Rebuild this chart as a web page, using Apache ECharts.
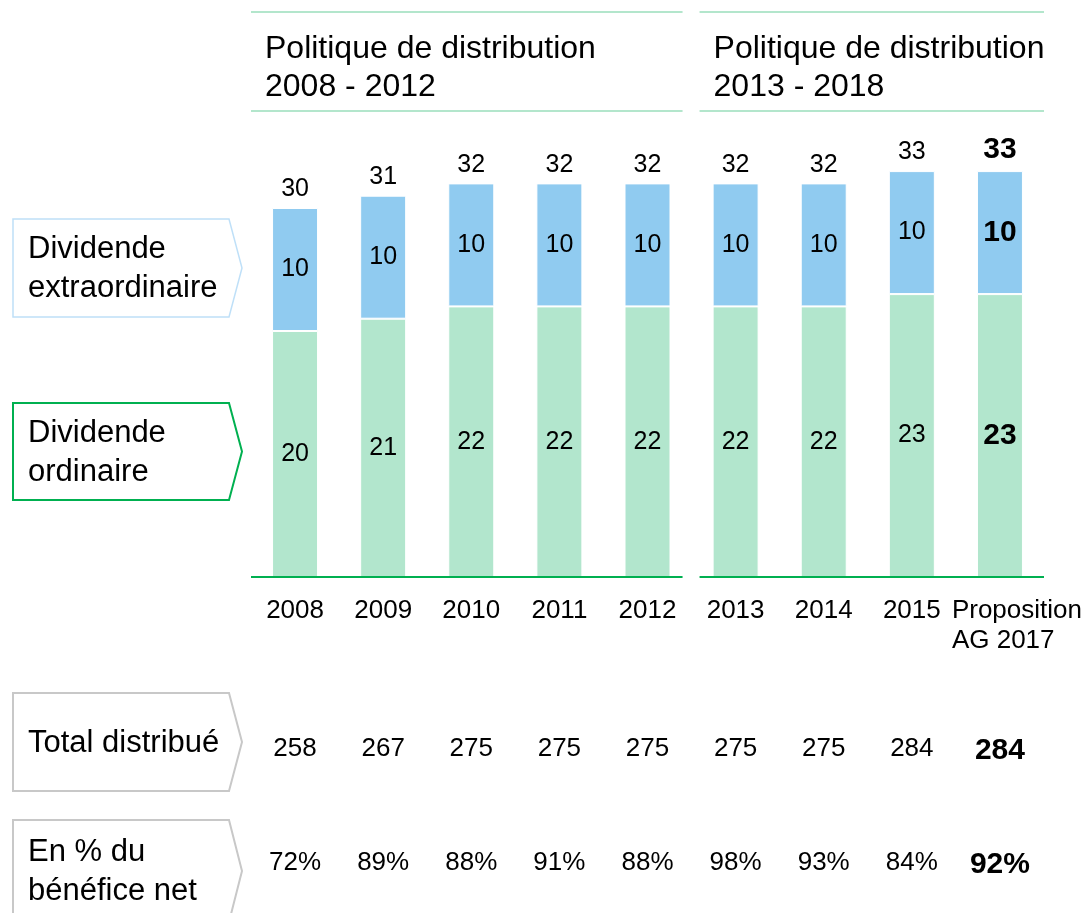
<!DOCTYPE html>
<html>
<head>
<meta charset="utf-8">
<script src="https://cdn.jsdelivr.net/npm/echarts@6/dist/echarts.min.js"></script>
<style>html,body{margin:0;padding:0;background:#fff}#c{width:1088px;height:913px}</style>
</head>
<body>
<div id="c"></div>
<script>
const categories = ['2008','2009','2010','2011','2012','2013','2014','2015','Proposition\nAG 2017'];
const ordinary = [20,21,22,22,22,22,22,23,23];
const extraordinary = [10,10,10,10,10,10,10,10,10];
const totals = [30,31,32,32,32,32,32,33,33];
const distributed = ['258','267','275','275','275','275','275','284','284'];
const payout = ['72%','89%','88%','91%','88%','98%','93%','84%','92%'];
const periodTitles = ['Politique de distribution\n2008 - 2012','Politique de distribution\n2013 - 2018'];

const FONT = '"Liberation Sans", Arial, Helvetica, sans-serif';
const GREEN = '#b2e6cd', BLUE = '#90cbf0', AXIS_GREEN = '#00b050', LINE_GREEN = '#b3e6cc';
const last = categories.length - 1;
const FS = 25;

function barData(arr){
  return arr.map((v,i)=> i===last ? {value:v, label:{fontWeight:'bold', fontSize:30}} : v);
}
function rowFormatter(v, i){ return i===last ? '{b|'+v+'}' : v; }
const rowLabel = () => ({
  fontSize:26, color:'#000', fontFamily:FONT, margin:20, interval:0,
  formatter: rowFormatter,
  rich:{ b:{fontSize:30, fontWeight:'bold', color:'#000', fontFamily:FONT} }
});

const chart = echarts.init(document.getElementById('c'), null, {renderer:'canvas'});
chart.setOption({
  animation:false,
  backgroundColor:'#fff',
  grid:{left:251, right:44, top:85, bottom:336},
  xAxis:[
    {type:'category', data:categories, axisLine:{show:false}, axisTick:{show:false},
     axisLabel:{fontSize:26, color:'#000', fontFamily:FONT, margin:19, lineHeight:30, interval:0,
       formatter:(v,i)=> i===last ? v.split('\n').map(s=>'{p|'+s+'}').join('\n') : v,
       rich:{p:{fontSize:26, color:'#000', fontFamily:FONT, align:'left', lineHeight:30, padding:[0,0,0,34]}}}},
    {type:'category', data:distributed, position:'bottom', offset:139, axisLine:{show:false}, axisTick:{show:false},
     axisLabel:rowLabel()},
    {type:'category', data:payout, position:'bottom', offset:253, axisLine:{show:false}, axisTick:{show:false},
     axisLabel:rowLabel()}
  ],
  yAxis:{type:'value', min:0, max:40, show:false, splitLine:{show:false}},
  series:[
    {name:'Dividende ordinaire', type:'bar', stack:'d', barWidth:46, data:barData(ordinary),
     itemStyle:{color:GREEN, borderColor:'#fff', borderWidth:1},
     label:{show:true, position:'inside', fontSize:FS, color:'#000', fontFamily:FONT}},
    {name:'Dividende extraordinaire', type:'bar', stack:'d', barWidth:46, data:barData(extraordinary),
     itemStyle:{color:BLUE, borderColor:'#fff', borderWidth:1},
     label:{show:true, position:'inside', fontSize:FS, color:'#000', fontFamily:FONT}},
    {name:'Total', type:'bar', stack:'d', barWidth:46, data:barData(totals.map(()=>0)),
     itemStyle:{color:'rgba(0,0,0,0)'},
     label:{show:true, position:'top', distance:6, fontSize:FS, color:'#000', fontFamily:FONT,
            formatter: p => String(totals[p.dataIndex])}}
  ]
});

// decorations: period lines and axis segments derived from the category axis
const xAt = i => chart.convertToPixel({xAxisIndex:0}, i);
const band = xAt(1) - xAt(0);
const baseY = chart.convertToPixel({yAxisIndex:0}, 0);
const seg1 = [xAt(0) - band/2, xAt(4) + band/2 - 9];
const seg2 = [xAt(5) - band/2 + 8, xAt(last) + band/2];

const g = [];
[seg1, seg2].forEach((s, k) => {
  g.push({type:'line', shape:{x1:s[0], y1:12, x2:s[1], y2:12}, style:{stroke:LINE_GREEN, lineWidth:2}});
  g.push({type:'line', shape:{x1:s[0], y1:111, x2:s[1], y2:111}, style:{stroke:LINE_GREEN, lineWidth:2}});
  g.push({type:'line', shape:{x1:s[0], y1:baseY, x2:s[1], y2:baseY}, style:{stroke:AXIS_GREEN, lineWidth:2}, z:10});
  g.push({type:'text', style:{text:periodTitles[k], x:s[0]+14, y:68, fontSize:32, fontFamily:FONT, fill:'#000', lineHeight:38, verticalAlign:'middle'}});
});

function box(top, bottom, stroke, lw, text){
  const mid = (top+bottom)/2;
  g.push({type:'polygon', shape:{points:[[13,top],[229,top],[242,mid],[229,bottom],[13,bottom]]},
          style:{fill:'#fff', stroke:stroke, lineWidth:lw}});
  g.push({type:'text', style:{text:text, x:28, y:mid+1, fontSize:31, fontFamily:FONT, fill:'#000', lineHeight:39, verticalAlign:'middle'}});
}
box(219, 317, '#bfe0f8', 1.5, 'Dividende\nextraordinaire');
box(403, 500, AXIS_GREEN, 2, 'Dividende\nordinaire');
box(693, 791, '#c8c8c8', 2, 'Total distribué');
box(820, 922, '#c8c8c8', 2, 'En % du\nbénéfice net');

chart.setOption({graphic:g});
</script>
</body>
</html>
